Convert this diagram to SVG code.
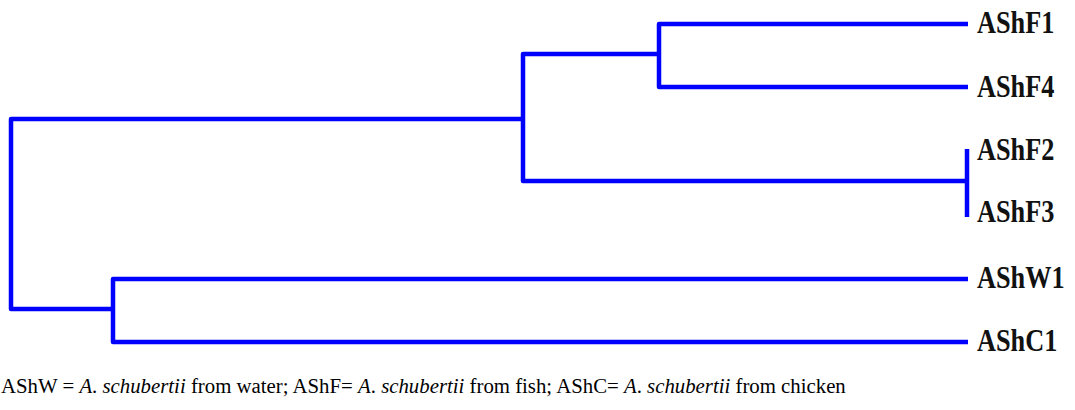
<svg xmlns="http://www.w3.org/2000/svg" width="1075" height="410" viewBox="0 0 1075 410">
  <style>
    .branch { fill: none; stroke: #0000ff; stroke-width: 4.5; stroke-linejoin: round; stroke-linecap: butt; }
    .leaf { font-family: "Liberation Serif", "Times New Roman", serif; font-weight: bold; font-size: 26.3px; fill: #111; }
    .caption { font-family: "Liberation Serif", "Times New Roman", serif; font-size: 20.8px; fill: #000; }
    .caption .sp { font-style: italic; }
  </style>
  <rect width="1075" height="410" fill="#ffffff"/>

  <!-- dendrogram branches -->
  <g id="connectors">
    <!-- root split -->
    <path class="branch" d="M523,119 H11 V309 H113"/>
    <!-- fish cluster -->
    <path class="branch" d="M659,54 H523 V181 H967"/>
    <path class="branch" d="M968,24 H659 V87 H968"/>
    <!-- AShF2 / AShF3 (zero distance) -->
    <path class="branch" d="M967,149 V217"/>
    <!-- water / chicken cluster -->
    <path class="branch" d="M968,279 H113 V342 H968"/>
  </g>

  <!-- leaf labels (tall, narrow bold serif) -->
  <g id="AShF1" transform="translate(977,33) scale(1,1.18)"><text class="leaf" x="0" y="0">AShF1</text></g>
  <g id="AShF4" transform="translate(977,97) scale(1,1.18)"><text class="leaf" x="0" y="0">AShF4</text></g>
  <g id="AShF2" transform="translate(977,160) scale(1,1.18)"><text class="leaf" x="0" y="0">AShF2</text></g>
  <g id="AShF3" transform="translate(977,222) scale(1,1.18)"><text class="leaf" x="0" y="0">AShF3</text></g>
  <g id="AShW1" transform="translate(977,288) scale(1,1.18)"><text class="leaf" x="0" y="0">AShW1</text></g>
  <g id="AShC1" transform="translate(977,351) scale(1,1.18)"><text class="leaf" x="0" y="0">AShC1</text></g>

  <!-- legend -->
  <text class="caption" x="1" y="393">AShW = <tspan class="sp">A</tspan>. <tspan class="sp">schubertii</tspan> from water; AShF= <tspan class="sp">A</tspan>. <tspan class="sp">schubertii</tspan> from fish; AShC= <tspan class="sp">A</tspan>. <tspan class="sp">schubertii</tspan> from chicken</text>
</svg>
